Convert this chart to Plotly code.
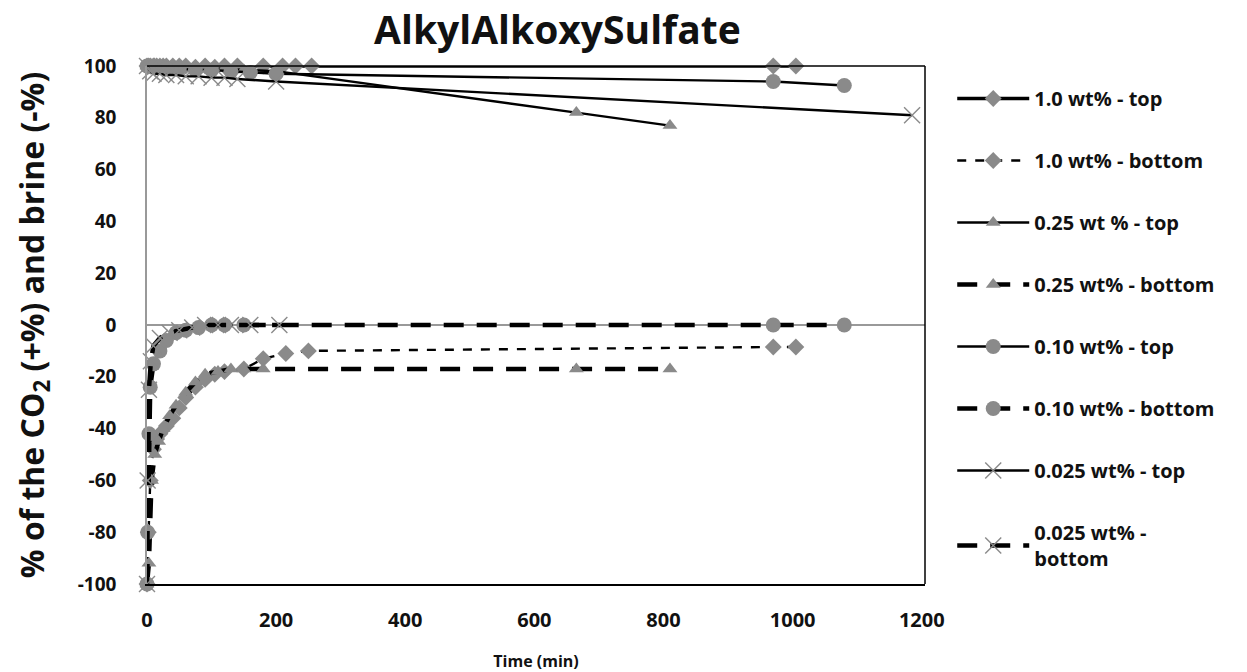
import plotly.graph_objects as go

# ---- data (time in min, value in %) ----
t_10_top = [0, 2, 5, 10, 15, 20, 25, 30, 40, 50, 60, 75, 90, 105, 120, 140, 180, 210, 230, 255, 970, 1005]
v_10_top = [100, 100, 100, 100, 100, 100, 100, 100, 100, 100, 100, 99.5, 100, 99.5, 100, 100, 100, 100, 100, 100, 100, 100]

t_10_bot = [0, 2, 5, 10, 15, 20, 30, 40, 50, 60, 75, 90, 105, 120, 150, 180, 215, 250, 970, 1005]
v_10_bot = [-100, -80, -60, -48, -44, -42, -39, -36, -32, -28, -24, -21, -19, -18, -17, -13, -11, -10, -8.5, -8.5]

t_025_top = [0, 5, 10, 20, 30, 45, 60, 90, 120, 150, 200, 665, 810]
v_025_top = [100, 100, 100, 99.5, 99.5, 99, 99, 99, 99, 98.5, 98, 82, 77]

t_025_bot = [0, 3, 7, 12, 18, 25, 35, 45, 60, 75, 90, 110, 130, 150, 180, 665, 810]
v_025_bot = [-100, -92, -60, -50, -45, -40, -35, -31, -26, -22, -19, -18, -17, -17, -17, -17, -17]

t_010_top = [0, 5, 10, 20, 30, 50, 75, 100, 130, 160, 200, 970, 1080]
v_010_top = [100, 100, 99.5, 99.5, 99, 99, 98.5, 98.5, 98, 97.5, 97, 94, 92.5]

t_010_bot = [0, 1, 3, 5, 10, 20, 30, 45, 60, 80, 100, 120, 150, 970, 1080]
v_010_bot = [-100, -80, -42, -24, -15, -10, -6, -3, -2, -1, 0, 0, 0, 0, 0]

t_0025_top = [0, 5, 10, 20, 30, 45, 60, 80, 100, 120, 140, 200, 1185]
v_0025_top = [100, 98, 97, 97, 96.5, 96.5, 96, 96, 95.5, 95.5, 95, 94, 81]

t_0025_bot = [0, 1, 3, 6, 10, 20, 35, 50, 70, 90, 110, 130, 160, 205]
v_0025_bot = [-100, -60, -25, -14, -8, -5, -3, -2, -1, 0, 0, 0, 0, 0]

x_ticks = [0, 200, 400, 600, 800, 1000, 1200]
y_ticks = [-100, -80, -60, -40, -20, 0, 20, 40, 60, 80, 100]
y_ticktext = ["-100", "-80", "-60", "-40", "-20", "0", "20", "40", "60", "80", "100"]

names = ["1.0 wt% - top", "1.0 wt% - bottom", "0.25 wt % - top", "0.25 wt% - bottom",
         "0.10 wt% - top", "0.10 wt% - bottom", "0.025 wt% - top", "0.025 wt% -<br>bottom"]

GRAY = "#8a8a8a"
FONT = "Open Sans"

series = [
    (t_10_top, v_10_top, dict(width=3.5, dash="solid"), dict(symbol="diamond", size=13)),
    (t_10_bot, v_10_bot, dict(width=2.4, dash="9px,9px"), dict(symbol="diamond", size=13)),
    (t_025_top, v_025_top, dict(width=2.4, dash="solid"), dict(symbol="triangle-up", size=13)),
    (t_025_bot, v_025_bot, dict(width=4.5, dash="20px,13px"), dict(symbol="triangle-up", size=13)),
    (t_010_top, v_010_top, dict(width=2.4, dash="solid"), dict(symbol="circle", size=15)),
    (t_010_bot, v_010_bot, dict(width=4.5, dash="20px,13px"), dict(symbol="circle", size=15)),
    (t_0025_top, v_0025_top, dict(width=2.4, dash="solid"), dict(symbol="x-thin-open", size=16)),
    (t_0025_bot, v_0025_bot, dict(width=4.5, dash="20px,13px"), dict(symbol="x-thin-open", size=16)),
]

fig = go.Figure()
for i, ((tx, vy, ln, mk), nm) in enumerate(zip(series, names)):
    marker = dict(color=GRAY, size=mk["size"], symbol=mk["symbol"])
    if mk["symbol"].startswith("x"):
        marker["line"] = dict(color=GRAY, width=1.4)
    fig.add_trace(go.Scatter(
        x=tx, y=vy, mode="lines+markers", name=nm, legendgroup=f"g{i}",
        line=dict(color="black", width=ln["width"], dash=ln["dash"]),
        marker=marker, cliponaxis=False,
    ))

fig.update_layout(
    width=1247, height=672,
    paper_bgcolor="white", plot_bgcolor="white",
    margin=dict(l=147, r=322, t=66, b=88, autoexpand=False),
    title=dict(text="<b>AlkylAlkoxySulfate</b>", x=0.447, xanchor="center", y=0.955, yanchor="middle",
               font=dict(family=FONT, size=39, color="#111")),
    font=dict(family=FONT, color="#111"),
    showlegend=True,
    legend=dict(x=1.035, y=0.975, xanchor="left", yanchor="top", tracegroupgap=33,
                font=dict(family=FONT, size=20, color="#111", weight="bold"), itemwidth=72,
                bgcolor="rgba(0,0,0,0)", maxheight=640),
    xaxis=dict(range=[0, 1205], tickvals=x_ticks, automargin=False,
               showgrid=False, zeroline=False, showline=True, linecolor="black", linewidth=1.5,
               ticks="", ticklabelstandoff=17,
               tickfont=dict(family=FONT, size=20, color="#111", weight="bold"),
               title=dict(text="<b>Time (min)</b>", font=dict(family=FONT, size=16, color="#111"), standoff=28)),
    yaxis=dict(range=[-100, 100], tickvals=y_ticks, ticktext=y_ticktext, automargin=False,
               showgrid=False, zeroline=True, zerolinecolor="#999", zerolinewidth=1.5,
               showline=True, linecolor="#999", linewidth=1.5,
               ticks="", ticklabelstandoff=25,
               tickfont=dict(family=FONT, size=19, color="#111", weight="bold"),
               title=dict(text="<b>% of the CO<sub>2</sub> (+%) and brine (-%)</b>",
                          font=dict(family=FONT, size=32, color="#111"), standoff=24)),
)

# plot area border (top and right)
fig.add_shape(type="line", xref="paper", yref="paper", x0=0, x1=1, y0=1, y1=1,
              line=dict(color="black", width=1.5))
fig.add_shape(type="line", xref="paper", yref="paper", x0=1, x1=1, y0=0, y1=1,
              line=dict(color="black", width=1.5))

fig.write_html("out.html")
